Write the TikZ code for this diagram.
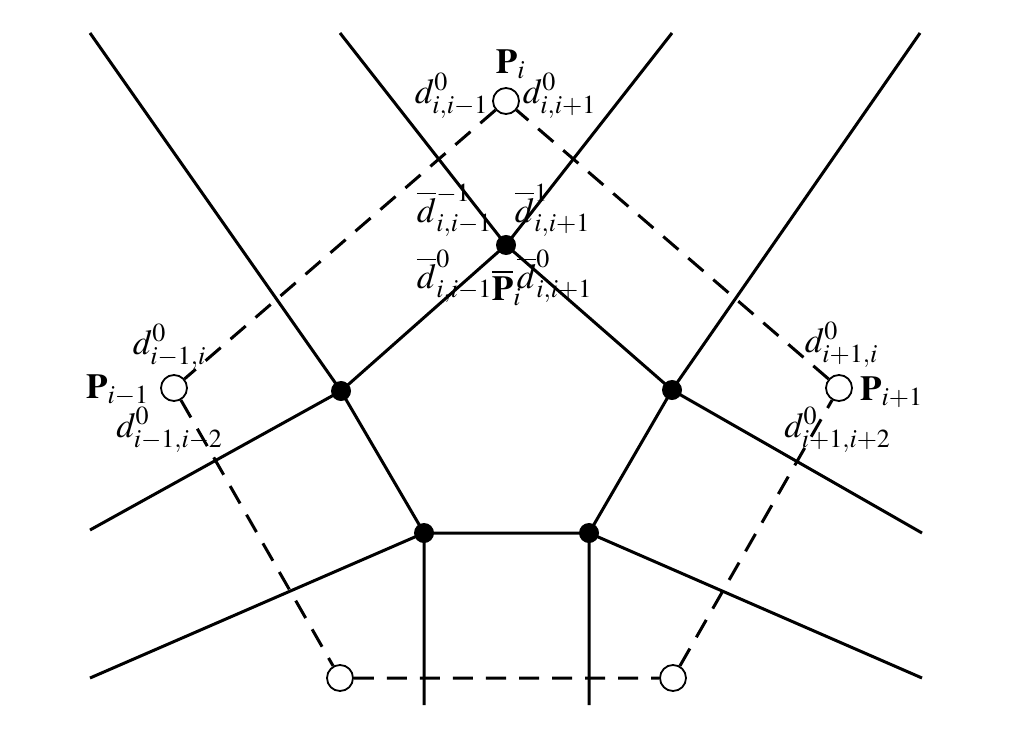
\documentclass[tikz,border=0pt]{standalone}
\usepackage{amsmath}
\usepackage{amssymb}
\usepackage{mathptmx}
\usepackage{tikz}
\usetikzlibrary{calc}

\tikzset{
  site/.style={circle,draw,fill=white,line width=0.018cm,inner sep=0pt,minimum size=0.26cm},
  vertex/.style={circle,fill=black,inner sep=0pt,minimum size=0.2cm},
  edge/.style={line width=0.03cm},
  dual/.style={line width=0.03cm,dash pattern=on 0.2cm off 0.13cm},
}

\begin{document}
\begin{tikzpicture}[x=0.01cm,y=-0.01cm]
                        \useasboundingbox (0,0) rectangle (1016,737);
                        {\normalsize

                        % Voronoi vertices
                        \coordinate (vt) at (506,245);
                        \coordinate (vl) at (341,391);
                        \coordinate (vr) at (672,390);
                        \coordinate (vbl) at (424,533);
                        \coordinate (vbr) at (589,533);

                        % Free ends of the edges
                        \coordinate (e1) at (340,33);
                        \coordinate (e2) at (672,33);
                        \coordinate (e3) at (90,33);
                        \coordinate (e4) at (920,33);
                        \coordinate (e5) at (90,530);
                        \coordinate (e6) at (922,533);
                        \coordinate (e7) at (90,678);
                        \coordinate (e8) at (922,678);
                        \coordinate (e9) at (424,705);
                        \coordinate (e10) at (589,705);

                        % Drawing the edges
                        \draw [edge] (e1) -- (vt) -- (e2);%
                        \draw [edge] (vl) -- (vt) -- (vr);%
                        \draw [edge] (e3) -- (vl) -- (e5);%
                        \draw [edge] (e4) -- (vr) -- (e6);%
                        \draw [edge] (vl) -- (vbl) -- (vbr) -- (vr);%
                        \draw [edge] (e7) -- (vbl) -- (e9);%
                        \draw [edge] (e8) -- (vbr) -- (e10);%

                        % Marking the sites by circles
                        \node [site] (pi) at (506,101) {};%
                        \node [site] (pim) at (174,388) {};%
                        \node [site] (pip) at (839,388) {};%
                        \node [site] (pbl) at (340,678) {};%
                        \node [site] (pbr) at (673,678) {};%

                        % Drawing the dashed lines
                        \draw [dual] (pi) -- (pim) -- (pbl) -- (pbr) -- (pip) -- (pi);%

                        % Marking the vertices by dots
                        \foreach \v in {vt,vl,vr,vbl,vbr}
                          \node [vertex] at (\v) {};%

                        % Labels
                        \node (lpi) at (511,64) {$\mathbf{P}_i$};%
                        \node (lpim) at (118,390) {$\mathbf{P}_{i-1}$};%
                        \node (lpip) at (892,392) {$\mathbf{P}_{i+1}$};%
                        \node (lpt) at (507,288) {$\overline{\mathbf{P}}_i$};%
                        \node (d1) at (452,96) {$d^0_{i,i-1}$};%
                        \node (d2) at (560,96) {$d^0_{i,i+1}$};%
                        \node (d3) at (455,210) {$\overline{d}^{-1}_{i,i-1}$};%
                        \node (d4) at (553,210) {$\overline{d}^{1}_{i,i+1}$};%
                        \node (d5) at (455,276) {$\overline{d}^{0}_{i,i-1}$};%
                        \node (d6) at (555,276) {$\overline{d}^{0}_{i,i+1}$};%
                        \node (d7) at (170,347) {$d^0_{i-1,i}$};%
                        \node (d8) at (170,430) {$d^0_{i-1,i-2}$};%
                        \node (d9) at (842,345) {$d^0_{i+1,i}$};%
                        \node (d10) at (838,430) {$d^0_{i+1,i+2}$};%
                        }
                    \end{tikzpicture}
\end{document}
